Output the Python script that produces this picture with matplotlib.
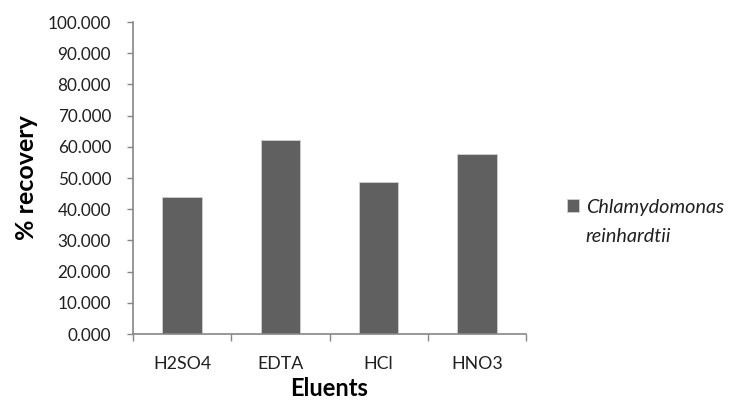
import numpy as np
import matplotlib
matplotlib.use("Agg")
from matplotlib import pyplot as plt

# データ
eluents = ["H2SO4", "EDTA", "HCl", "HNO3"]
recovery = [43.8, 62.1, 48.6, 57.6]
series_name = ["Chlamydomonas", "reinhardtii"]
y_ticks = [0, 10, 20, 30, 40, 50, 60, 70, 80, 90, 100]

plt.rcParams['font.family'] = ['Lato', 'DejaVu Sans']
axis_col = "#868686"
bar_col = "#606060"
text_col = "#202020"

fig = plt.figure(figsize=(7.32, 4.12), dpi=100)
ax = fig.add_axes([0.1817, 0.1893, 0.7186 - 0.1817, 0.9466 - 0.1893])

x = np.arange(len(eluents))
ax.bar(x, recovery, width=0.4, color=bar_col, edgecolor="#d0d0d0", linewidth=0.6,
       label=series_name[0])

ax.set_xlim(-0.5, len(eluents) - 0.5)
ax.set_ylim(0, 100)
ax.set_yticks(y_ticks)
ax.set_yticklabels(["{:.3f}".format(v) for v in y_ticks], fontsize=12.3, color=text_col)

# x軸の目盛りはカテゴリの境界に
ax.set_xticks(np.arange(len(eluents) + 1) - 0.5)
ax.set_xticklabels([])
ax.set_xticks(x, minor=True)
ax.set_xticklabels(eluents, minor=True, fontsize=12.8, color=text_col)
ax.tick_params(axis="x", which="minor", length=0, pad=16)
ax.tick_params(axis="x", which="major", length=5, color=axis_col, width=1)
ax.tick_params(axis="y", length=4.3, color=axis_col, width=1, pad=11.5)

for s in ["top", "right"]:
    ax.spines[s].set_visible(False)
for s in ["left", "bottom"]:
    ax.spines[s].set_color(axis_col)
    ax.spines[s].set_linewidth(1.2)

ax.set_ylabel("% recovery", fontsize=18, fontweight="bold", labelpad=7)
ax.set_xlabel("Eluents", fontsize=17, fontweight="bold", labelpad=3.5)

# 凡例は図の右側に (学名は2行)
leg = fig.legend(loc="center left", bbox_to_anchor=(567 / 732, 1 - 207 / 412),
                 frameon=False, borderpad=0, borderaxespad=0,
                 handlelength=0.6, handleheight=0.6, handletextpad=0.35,
                 prop={"size": 14.3, "style": "italic"})
for t in leg.get_texts():
    t.set_color(text_col)
fig.canvas.draw()
tx = leg.get_texts()[0].get_window_extent().x0 / fig.bbox.width
fig.text(tx, 1 - 237 / 412, series_name[1], fontsize=14.3, style="italic",
         color=text_col, ha="left", va="center")

fig.savefig("out.png", dpi=100)
